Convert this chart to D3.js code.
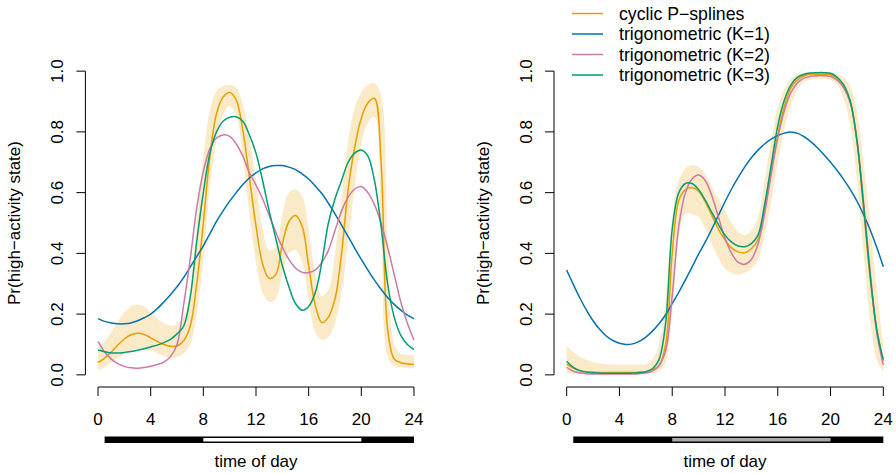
<!DOCTYPE html>
<html>
<head>
<meta charset="utf-8">
<script src="https://cdn.jsdelivr.net/npm/d3@7"></script>
<style>
  body { margin: 0; background: #fff; }
  text { font-family: "Liberation Sans", Arial, sans-serif; fill: #000; }
</style>
</head>
<body>
<div id="chart"></div>
<script>
// hour grid, every half hour
var hours = d3.range(0, 24.01, 0.5);

// ---- left panel ----
var leftPspline = [0.040,0.055,0.075,0.098,0.118,0.132,0.137,0.133,0.122,0.110,0.100,0.094,0.095,0.112,0.160,0.300,
  0.500,0.720,0.860,0.915,0.930,0.905,0.805,0.650,0.490,0.365,0.318,0.330,0.430,0.505,0.525,0.490,
  0.360,0.230,0.172,0.190,0.250,0.400,0.610,0.750,0.845,0.895,0.910,0.700,0.150,0.052,0.040,0.036,0.035];
var leftLower = [0.015,0.025,0.040,0.055,0.068,0.080,0.085,0.085,0.080,0.072,0.062,0.055,0.058,0.070,0.100,0.200,
  0.380,0.620,0.770,0.855,0.885,0.855,0.720,0.530,0.370,0.270,0.240,0.250,0.330,0.400,0.410,0.370,
  0.250,0.140,0.115,0.125,0.170,0.270,0.440,0.620,0.760,0.830,0.850,0.520,0.060,0.030,0.025,0.022,0.022];
var leftUpper = [0.090,0.110,0.140,0.175,0.205,0.225,0.232,0.225,0.205,0.185,0.170,0.162,0.165,0.190,0.280,0.500,
  0.720,0.870,0.935,0.950,0.955,0.945,0.890,0.780,0.640,0.480,0.410,0.420,0.530,0.600,0.610,0.590,
  0.480,0.330,0.260,0.280,0.400,0.580,0.770,0.880,0.930,0.955,0.960,0.920,0.450,0.100,0.070,0.065,0.065];
var leftTrig1 = [0.185,0.176,0.171,0.168,0.168,0.171,0.178,0.188,0.200,0.218,0.240,0.264,0.290,0.320,0.355,0.390,
  0.425,0.465,0.505,0.540,0.572,0.600,0.627,0.648,0.665,0.678,0.686,0.689,0.689,0.684,0.676,0.662,
  0.645,0.622,0.597,0.565,0.530,0.493,0.455,0.417,0.380,0.345,0.312,0.282,0.255,0.232,0.213,0.197,0.185];
var leftTrig2 = [0.110,0.075,0.052,0.037,0.028,0.023,0.022,0.024,0.028,0.034,0.042,0.060,0.100,0.230,0.380,0.550,
  0.670,0.745,0.780,0.790,0.785,0.760,0.720,0.665,0.625,0.580,0.525,0.470,0.420,0.380,0.352,0.338,
  0.337,0.345,0.370,0.410,0.475,0.540,0.585,0.612,0.620,0.600,0.560,0.500,0.420,0.330,0.240,0.170,0.115];
var leftTrig3 = [0.082,0.076,0.072,0.072,0.074,0.077,0.081,0.086,0.092,0.098,0.106,0.117,0.135,0.160,0.255,0.440,
  0.600,0.730,0.800,0.835,0.848,0.850,0.835,0.790,0.730,0.640,0.540,0.450,0.360,0.290,0.235,0.213,
  0.225,0.270,0.370,0.500,0.580,0.640,0.700,0.730,0.740,0.720,0.640,0.490,0.300,0.190,0.130,0.100,0.083];

// ---- right panel ----
var rightPspline = [0.035,0.022,0.014,0.010,0.009,0.008,0.008,0.008,0.008,0.008,0.008,0.009,0.010,0.018,0.030,0.100,
  0.400,0.575,0.610,0.617,0.605,0.570,0.525,0.480,0.445,0.418,0.405,0.402,0.415,0.445,0.550,0.670,
  0.790,0.885,0.945,0.972,0.985,0.990,0.990,0.990,0.988,0.975,0.948,0.900,0.770,0.550,0.320,0.150,0.045];
var rightLower = [0.005,0.004,0.003,0.002,0.002,0.002,0.002,0.002,0.002,0.002,0.002,0.002,0.003,0.005,0.012,0.040,
  0.200,0.460,0.530,0.530,0.520,0.480,0.430,0.385,0.350,0.335,0.330,0.335,0.350,0.380,0.460,0.570,
  0.700,0.810,0.890,0.940,0.965,0.972,0.975,0.975,0.972,0.955,0.910,0.820,0.640,0.400,0.180,0.050,0.010];
var rightUpper = [0.095,0.075,0.060,0.050,0.042,0.038,0.035,0.034,0.033,0.033,0.033,0.033,0.035,0.050,0.100,0.250,
  0.520,0.640,0.680,0.690,0.685,0.660,0.620,0.580,0.540,0.500,0.470,0.460,0.475,0.520,0.640,0.770,
  0.880,0.940,0.975,0.990,0.995,0.997,0.997,0.997,0.996,0.990,0.980,0.950,0.870,0.700,0.500,0.280,0.100];
var rightTrig1 = [0.345,0.298,0.253,0.213,0.178,0.150,0.128,0.113,0.104,0.100,0.102,0.110,0.124,0.144,0.168,0.198,
  0.235,0.272,0.313,0.355,0.398,0.437,0.480,0.525,0.570,0.612,0.650,0.685,0.715,0.740,0.760,0.776,
  0.788,0.796,0.800,0.795,0.784,0.768,0.748,0.725,0.700,0.673,0.643,0.610,0.572,0.528,0.478,0.420,0.356];
var rightTrig2 = [0.025,0.012,0.007,0.004,0.003,0.003,0.003,0.003,0.003,0.003,0.003,0.004,0.006,0.012,0.030,0.080,
  0.260,0.490,0.600,0.645,0.658,0.640,0.590,0.520,0.450,0.400,0.370,0.364,0.380,0.430,0.530,0.660,
  0.780,0.870,0.930,0.962,0.977,0.983,0.985,0.985,0.982,0.970,0.945,0.895,0.775,0.570,0.340,0.140,0.033];
var rightTrig3 = [0.045,0.025,0.014,0.009,0.007,0.006,0.005,0.005,0.005,0.005,0.006,0.007,0.010,0.020,0.050,0.170,
  0.480,0.600,0.630,0.630,0.610,0.575,0.535,0.495,0.460,0.437,0.424,0.422,0.432,0.460,0.560,0.690,
  0.820,0.905,0.955,0.980,0.990,0.994,0.995,0.995,0.993,0.980,0.955,0.900,0.770,0.560,0.330,0.150,0.050];

var xTicks = [0, 4, 8, 12, 16, 20, 24];
var yTicks = [0, 0.2, 0.4, 0.6, 0.8, 1.0];
var seriesNames = ["cyclic P\u2212splines", "trigonometric (K=1)", "trigonometric (K=2)", "trigonometric (K=3)"];
var seriesColors = ["#E69F00", "#0072B2", "#CC79A7", "#009E73"];
// light/dark bar below the x axis: [from, to]
var nightA = [0.5, 8], dayPart = [8, 20], nightB = [20, 24];

var W = 896, H = 474;
var svg = d3.select("#chart").append("svg")
    .attr("width", W)
    .attr("height", H);

var panels = [
  {left: 85.4, right: 426.6, pspline: leftPspline, lower: leftLower, upper: leftUpper,
   trig: [leftTrig1, leftTrig2, leftTrig3], dayFill: "#ffffff"},
  {left: 554, right: 896, pspline: rightPspline, lower: rightLower, upper: rightUpper,
   trig: [rightTrig1, rightTrig2, rightTrig3], dayFill: "#a9a9a9"}
];

var plotTop = 59, plotBottom = 387;

panels.forEach(function(p) {
    var x = d3.scaleLinear().domain([-0.96, 24.96]).range([p.left, p.right]);
    var y = d3.scaleLinear().domain([-0.04, 1.04]).range([plotBottom, plotTop]);
    var g = svg.append("g");

    // confidence band
    var area = d3.area()
        .x(function(d, i) { return x(hours[i]); })
        .y0(function(d, i) { return y(p.lower[i]); })
        .y1(function(d, i) { return y(p.upper[i]); })
        .curve(d3.curveCatmullRom.alpha(0.5));
    g.append("path")
        .attr("d", area(hours))
        .attr("fill", "#E69F00")
        .attr("fill-opacity", 0.22);

    var line = d3.line()
        .x(function(d, i) { return x(hours[i]); })
        .y(function(d) { return y(d); })
        .curve(d3.curveCatmullRom.alpha(0.5));

    var all = [p.pspline].concat(p.trig);
    // draw order: P-spline, K=1, K=2, K=3
    all.forEach(function(s, k) {
        g.append("path")
            .attr("d", line(s))
            .attr("fill", "none")
            .attr("stroke", seriesColors[k])
            .attr("stroke-width", 1.5);
    });

    // x axis
    var xa = g.append("g").attr("transform", "translate(0," + plotBottom + ")");
    xa.append("line")
        .attr("x1", x(0)).attr("x2", x(24))
        .attr("stroke", "#000");
    xTicks.forEach(function(t) {
        xa.append("line")
            .attr("x1", x(t)).attr("x2", x(t))
            .attr("y1", 0).attr("y2", 9)
            .attr("stroke", "#000");
        xa.append("text")
            .attr("x", x(t)).attr("y", 38)
            .attr("text-anchor", "middle")
            .style("font-size", "17px")
            .text(t);
    });

    // y axis
    var ya = g.append("g").attr("transform", "translate(" + p.left + ",0)");
    ya.append("line")
        .attr("y1", y(0)).attr("y2", y(1))
        .attr("stroke", "#000");
    yTicks.forEach(function(t) {
        ya.append("line")
            .attr("x1", -9).attr("x2", 0)
            .attr("y1", y(t)).attr("y2", y(t))
            .attr("stroke", "#000");
        ya.append("text")
            .attr("transform", "translate(-22.5," + y(t) + ") rotate(-90)")
            .attr("text-anchor", "middle")
            .style("font-size", "17px")
            .text(t.toFixed(1));
    });

    g.append("text")
        .attr("transform", "translate(" + (p.left - 65) + "," + ((plotTop + plotBottom) / 2) + ") rotate(-90)")
        .attr("text-anchor", "middle")
        .style("font-size", "17px")
        .text("Pr(high\u2212activity state)");

    // day/night bar
    g.append("rect")
        .attr("x", x(nightA[0])).attr("y", 436.5)
        .attr("width", x(nightB[1]) - x(nightA[0])).attr("height", 6.5)
        .attr("fill", "#000");
    g.append("rect")
        .attr("x", x(dayPart[0])).attr("y", 438)
        .attr("width", x(dayPart[1]) - x(dayPart[0])).attr("height", 3.5)
        .attr("fill", p.dayFill);

    g.append("text")
        .attr("x", (x(0) + x(24)) / 2).attr("y", 467)
        .attr("text-anchor", "middle")
        .style("font-size", "17px")
        .text("time of day");
});

// legend
var legend = svg.append("g");
seriesNames.forEach(function(name, i) {
    var ly = 13.5 + i * 20.5;
    legend.append("line")
        .attr("x1", 572).attr("x2", 603)
        .attr("y1", ly).attr("y2", ly)
        .attr("stroke", seriesColors[i])
        .attr("stroke-width", 1.5);
    legend.append("text")
        .attr("x", 619).attr("y", ly + 6.3)
        .style("font-size", "17.7px")
        .text(name);
});
</script>
</body>
</html>
